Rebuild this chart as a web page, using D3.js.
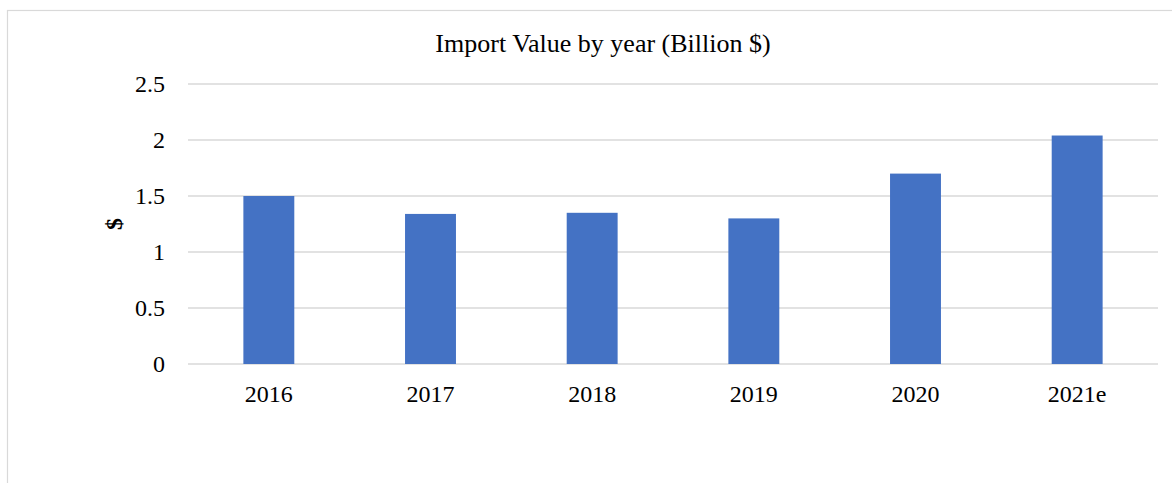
<!DOCTYPE html>
<html>
<head>
<meta charset="utf-8">
<script src="https://cdn.jsdelivr.net/npm/d3@7"></script>
<style>
  body { margin: 0; background: #fff; overflow: hidden; }
  svg text { font-family: "Liberation Serif", "Times New Roman", serif; fill: #000; }
</style>
</head>
<body>
<div id="chart"></div>
<script>
const years = ["2016", "2017", "2018", "2019", "2020", "2021e"];
const importValue = [1.5, 1.34, 1.35, 1.3, 1.7, 2.04];
const yTicks = [0, 0.5, 1, 1.5, 2, 2.5];

const W = 1172, H = 483;
const margin = { top: 84, right: 14, bottom: 119, left: 188 };
const width = W - margin.left - margin.right;
const height = H - margin.top - margin.bottom;

const svg = d3.select("#chart").append("svg")
  .attr("width", W)
  .attr("height", H);

// outer chart border (runs past the right and bottom edges)
svg.append("rect")
  .attr("x", 7.5).attr("y", 10.5)
  .attr("width", 1200).attr("height", 500)
  .attr("fill", "none")
  .attr("stroke", "#d9d9d9")
  .attr("stroke-width", 1.2);

const g = svg.append("g")
  .attr("transform", `translate(${margin.left},${margin.top})`);

const x = d3.scaleBand()
  .domain(years)
  .range([0, width])
  .padding(0);

const y = d3.scaleLinear()
  .domain([0, 2.5])
  .range([height, 0]);

// gridlines
g.selectAll("line.grid")
  .data(yTicks)
  .enter()
  .append("line")
  .attr("class", "grid")
  .attr("x1", 0)
  .attr("x2", width)
  .attr("y1", d => y(d))
  .attr("y2", d => y(d))
  .attr("stroke", "#d9d9d9")
  .attr("stroke-width", 1.5);

const barW = x.bandwidth() * 0.315;

g.selectAll("rect.bar")
  .data(years.map((yr, i) => ({ yr, v: importValue[i] })))
  .enter()
  .append("rect")
  .attr("class", "bar")
  .attr("x", d => x(d.yr) + (x.bandwidth() - barW) / 2)
  .attr("y", d => y(d.v))
  .attr("width", barW)
  .attr("height", d => y(0) - y(d.v))
  .attr("fill", "#4472c4");

// y axis labels
const yAxis = d3.axisLeft(y)
  .tickValues(yTicks)
  .tickSize(0)
  .tickPadding(23)
  .tickFormat(d => d);

g.append("g")
  .call(yAxis)
  .call(a => a.select(".domain").remove())
  .selectAll("text")
  .attr("font-size", "24px");

// x axis labels
const xAxis = d3.axisBottom(x)
  .tickSize(0)
  .tickPadding(21);

g.append("g")
  .attr("transform", `translate(0,${height})`)
  .call(xAxis)
  .call(a => a.select(".domain").remove())
  .selectAll("text")
  .attr("font-size", "24px");

// title
svg.append("text")
  .attr("x", 603)
  .attr("y", 52)
  .attr("text-anchor", "middle")
  .attr("font-size", "26px")
  .text("Import Value by year (Billion $)");

// y axis title
svg.append("text")
  .attr("transform", `translate(122,${margin.top + y(1.25)}) rotate(-90)`)
  .attr("text-anchor", "middle")
  .attr("font-size", "24px")
  .attr("font-weight", "bold")
  .text("$");
</script>
</body>
</html>
